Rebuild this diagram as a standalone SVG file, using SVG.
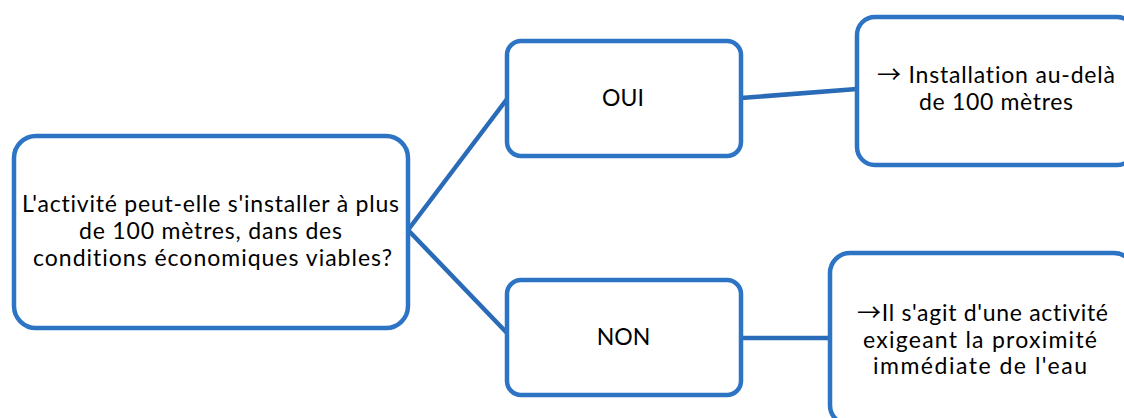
<svg xmlns="http://www.w3.org/2000/svg" width="1124" height="418" viewBox="0 0 1124 418">
<style>
.box{fill:#ffffff;stroke:#2E74C4;stroke-width:4.5}
.conn{stroke:#2A6BB8;stroke-width:4.5;fill:none}
.t{font-family:Lato,"Open Sans","Liberation Sans",sans-serif;font-size:23px;fill:#000000;text-anchor:middle;font-variant-ligatures:none;font-feature-settings:"liga" 0,"clig" 0}
.ar{font-family:"Noto Sans CJK SC","DejaVu Sans",sans-serif;font-size:24px}
</style>
<rect width="1124" height="418" fill="#ffffff"/>
<g id="connectors">
<line class="conn" x1="408" y1="230" x2="507" y2="99"/>
<line class="conn" x1="408" y1="230" x2="507" y2="333"/>
<line class="conn" x1="741" y1="98" x2="857" y2="89"/>
<line class="conn" x1="741" y1="338" x2="830" y2="338"/>
</g>
<g id="question">
<rect class="box" x="14" y="136" width="394" height="192" rx="22"/>
<text class="t" x="210.5" y="212" textLength="377" lengthAdjust="spacing">L'activité peut-elle s'installer à plus</text>
<text class="t" x="210.5" y="239" textLength="263" lengthAdjust="spacing">de 100 mètres, dans des</text>
<text class="t" x="212.5" y="266" textLength="359" lengthAdjust="spacing">conditions économiques viables?</text>
</g>
<g id="oui">
<rect class="box" x="507" y="41" width="234" height="115" rx="14"/>
<text class="t" x="623" y="106">OUI</text>
</g>
<g id="non">
<rect class="box" x="507" y="280" width="234" height="115" rx="14"/>
<text class="t" x="623.5" y="345">NON</text>
</g>
<g id="result-oui">
<rect class="box" x="857" y="17" width="278" height="148" rx="18"/>
<text class="t" x="996" y="83" textLength="238" lengthAdjust="spacing"><tspan class="ar">→</tspan> Installation au-delà</text>
<text class="t" x="996" y="110" textLength="154" lengthAdjust="spacing">de 100 mètres</text>
</g>
<g id="result-non">
<rect class="box" x="830" y="253" width="304" height="172" rx="20"/>
<text class="t" x="982.5" y="321" textLength="251" lengthAdjust="spacing"><tspan class="ar">→</tspan>Il s'agit d'une activité</text>
<text class="t" x="980" y="348" textLength="234" lengthAdjust="spacing">exigeant la proximité</text>
<text class="t" x="980" y="374" textLength="214" lengthAdjust="spacing">immédiate de l'eau</text>
</g>
</svg>
